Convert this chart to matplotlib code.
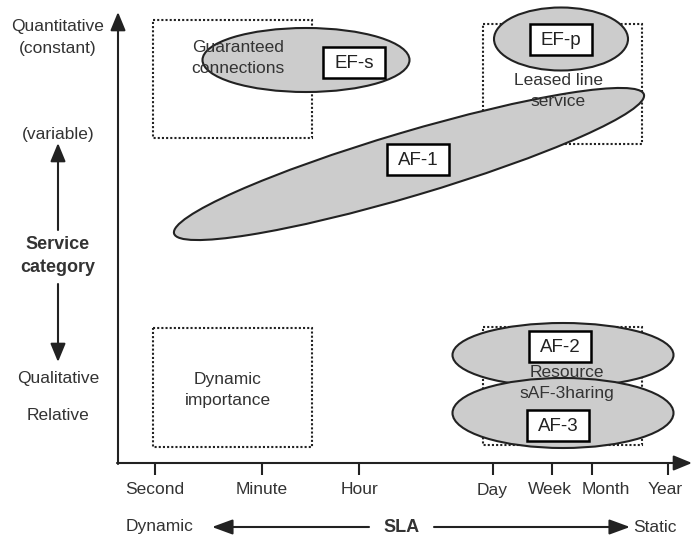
import matplotlib
matplotlib.use("Agg")
import matplotlib.pyplot as plt
from matplotlib.patches import Ellipse, Rectangle

plt.rcParams['font.family'] = ['Liberation Sans', 'DejaVu Sans']

# diagram coordinates: x to the right, y downwards (pixel-like units)
W, H = 692, 558
LINE = '#222222'
TEXT = '#333333'
FILL = '#cccccc'

# time scale on the SLA axis
tick_labels = ['Second', 'Minute', 'Hour', 'Day', 'Week', 'Month', 'Year']
tick_x = [155, 262, 359, 493, 552, 592, 668]
tick_label_x = [155, 262, 359, 492, 550, 606, 665]

# axes origin and ends
x0, y0 = 118, 463
x_end, y_top = 692, 12

# dotted regions: (x, y, w, h, label, label_x, label_y)
region_labels = ['Guaranteed\nconnections', 'Leased line\nservice',
                 'Dynamic\nimportance', 'Resource\nsAF-3haring']
region_x = [153, 483, 153, 483]
region_y = [20, 24, 328, 327]
region_w = [159, 159, 159, 159]
region_h = [118, 120, 119, 118]
region_tx = [238, 558, 228, 567]
region_ty = [58, 91, 390, 383]

# service classes: ellipses (cx, cy, w, h, angle) and label boxes
class_names = ['EF-s', 'EF-p', 'AF-1', 'AF-2', 'AF-3']
ell_cx = [306, 561, 409, 563, 563]
ell_cy = [60, 39, 164, 355, 413]
ell_w = [207, 134, 490, 221, 221]
ell_h = [64, 63, 64, 64, 70]
ell_ang = [0, 0, -16.5, 0, 0]
box_cx = [354, 561, 418, 560, 558]
box_cy = [62, 39, 159, 346, 425]

# left side labels
left_labels = ['Quantitative', '(constant)', '(variable)', 'Qualitative', 'Relative']
left_y = [27, 48, 135, 378, 416]

fig = plt.figure(figsize=(W / 100, H / 100), dpi=100)
ax = fig.add_axes([0, 0, 1, 1])
ax.set_xlim(0, W)
ax.set_ylim(H, 0)
ax.axis('off')

lw = 1.5
head = '-|>,head_length=0.8,head_width=0.33'


def arrow(xy, xytext, style=head, ms=14):
    ax.annotate('', xy=xy, xytext=xytext,
                arrowprops=dict(arrowstyle=style, color=LINE, lw=lw,
                                mutation_scale=ms, shrinkA=0, shrinkB=0))


# main axes with arrowheads
arrow((x0, y_top), (x0, y0 + 1))
arrow((x_end, y0), (x0 - 1, y0))

for tx, lx, lab in zip(tick_x, tick_label_x, tick_labels):
    ax.plot([tx, tx], [y0, y0 + 12], color=LINE, lw=lw, solid_capstyle='butt')
    ax.text(lx, 490, lab, ha='center', va='center', fontsize=12.5, color=TEXT)

# dotted regions
for x, y, w, h, lab, tx, ty in zip(region_x, region_y, region_w, region_h,
                                   region_labels, region_tx, region_ty):
    ax.add_patch(Rectangle((x, y), w, h, fill=False, ec=LINE, lw=lw,
                           linestyle=(0, (1, 1)), zorder=1))
    ax.text(tx, ty, lab, ha='center', va='center', fontsize=12.5, color=TEXT,
            linespacing=1.45, zorder=5)

# service class ellipses and boxes
for name, cx, cy, w, h, a, bx, by in zip(class_names, ell_cx, ell_cy, ell_w, ell_h,
                                         ell_ang, box_cx, box_cy):
    ax.add_patch(Ellipse((cx, cy), w, h, angle=a, fc=FILL, ec=LINE, lw=lw, zorder=2))
    ax.add_patch(Rectangle((bx - 31, by - 15.5), 62, 31, fc='white', ec='black',
                           lw=1.8, zorder=6))
    ax.text(bx, by + 1.5, name, ha='center', va='center', fontsize=13.5,
            color='#222222', zorder=7)

# left labels
for lab, y in zip(left_labels, left_y):
    ax.text(58, y, lab, ha='center', va='center', fontsize=12.5, color=TEXT)
ax.text(58, 256, 'Service\ncategory', ha='center', va='center', fontsize=13,
        fontweight='bold', color=TEXT, linespacing=1.4)
arrow((58, 143), (58, 230))
arrow((58, 362), (58, 284))

# SLA scale at the bottom
ax.text(160, 527, 'Dynamic', ha='center', va='center', fontsize=12.5, color=TEXT)
ax.text(402, 527, 'SLA', ha='center', va='center', fontsize=13, fontweight='bold', color=TEXT)
ax.text(655, 527, 'Static', ha='center', va='center', fontsize=12.5, color=TEXT)
arrow((212, 527), (369, 527), '-|>,head_length=0.9,head_width=0.33')
arrow((630, 527), (434, 527), '-|>,head_length=0.9,head_width=0.33')

fig.savefig('out.png', dpi=100)
